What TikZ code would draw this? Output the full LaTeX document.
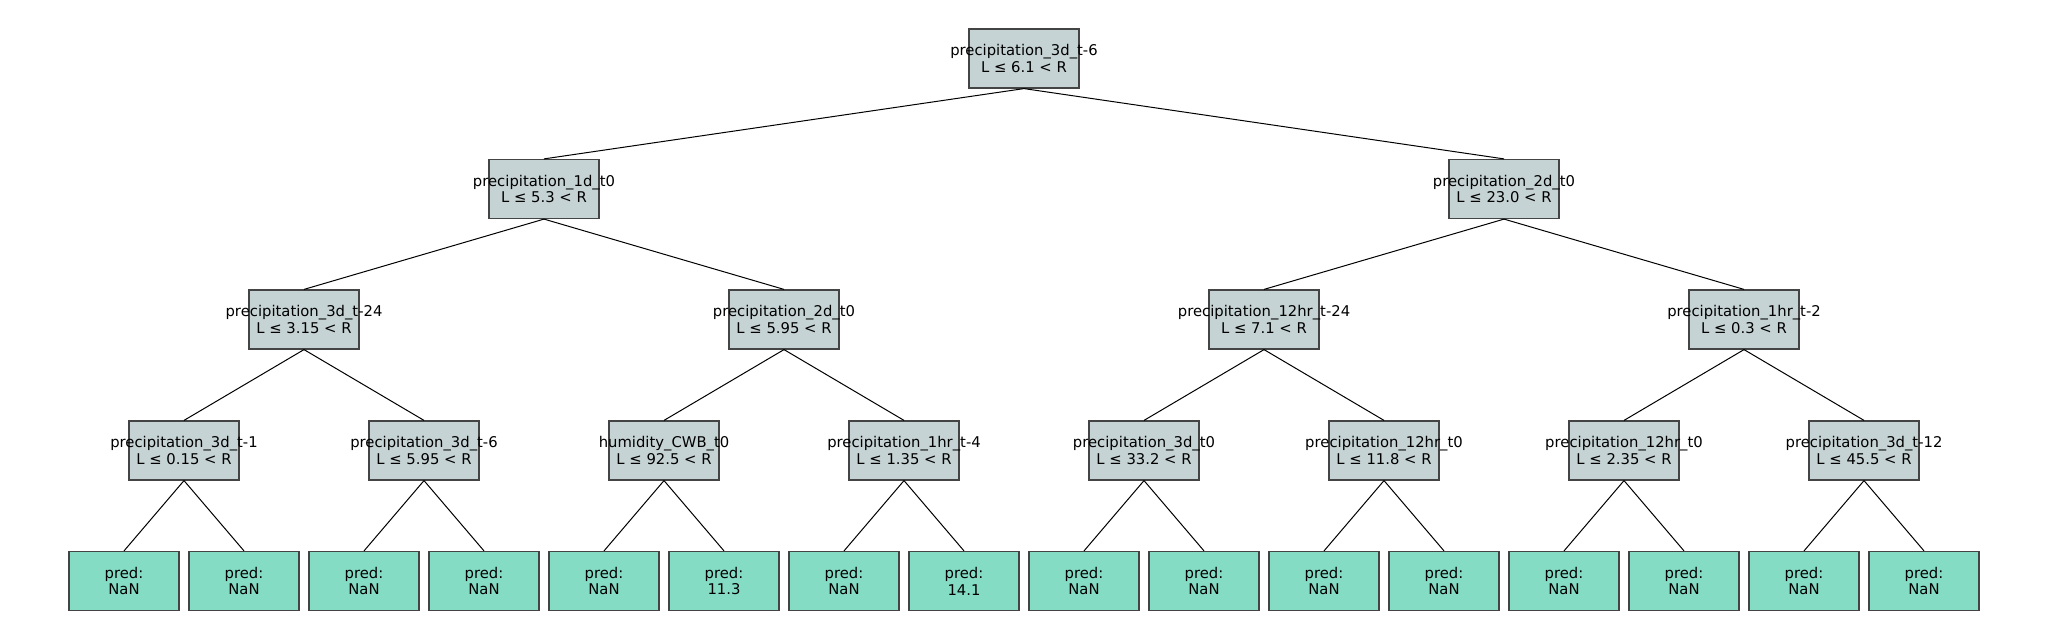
\documentclass[tikz,border=0pt]{standalone}
\usepackage{fontspec}
\newfontfamily\treefont{DejaVu Sans}
\definecolor{splitgray}{RGB}{198,211,212}
\definecolor{leafgreen}{RGB}{133,220,197}
\definecolor{boxline}{RGB}{68,68,68}
\tikzset{
	split/.style={draw=boxline, fill=splitgray, line width=0.6pt, minimum width=55pt, minimum height=29.5pt, inner sep=0pt, align=center, font=\treefont\fontsize{7.4}{8.4}\selectfont},
	leaf/.style={split, fill=leafgreen},
	branch/.style={line width=0.5pt, black}
}
\newcommand{\feat}[1]{\makebox[0pt]{#1}}

\begin{document}
\begin{tikzpicture}[x=0.5pt, y=-0.5pt]
	\useasboundingbox (0, 0) rectangle (2048, 640);
	\node[split] (T) at (1024, 58.5) {\feat{precipitation\_3d\_t-6}\\L ≤ 6.1 < R};
	\node[split] (L) at (544, 189) {\feat{precipitation\_1d\_t0}\\L ≤ 5.3 < R};
	\node[split] (R) at (1504, 189) {\feat{precipitation\_2d\_t0}\\L ≤ 23.0 < R};
	\node[split] (LL) at (304, 319.5) {\feat{precipitation\_3d\_t-24}\\L ≤ 3.15 < R};
	\node[split] (LR) at (784, 319.5) {\feat{precipitation\_2d\_t0}\\L ≤ 5.95 < R};
	\node[split] (RL) at (1264, 319.5) {\feat{precipitation\_12hr\_t-24}\\L ≤ 7.1 < R};
	\node[split] (RR) at (1744, 319.5) {\feat{precipitation\_1hr\_t-2}\\L ≤ 0.3 < R};
	\node[split] (LLL) at (184, 450.5) {\feat{precipitation\_3d\_t-1}\\L ≤ 0.15 < R};
	\node[split] (LLR) at (424, 450.5) {\feat{precipitation\_3d\_t-6}\\L ≤ 5.95 < R};
	\node[split] (LRL) at (664, 450.5) {\feat{humidity\_CWB\_t0}\\L ≤ 92.5 < R};
	\node[split] (LRR) at (904, 450.5) {\feat{precipitation\_1hr\_t-4}\\L ≤ 1.35 < R};
	\node[split] (RLL) at (1144, 450.5) {\feat{precipitation\_3d\_t0}\\L ≤ 33.2 < R};
	\node[split] (RLR) at (1384, 450.5) {\feat{precipitation\_12hr\_t0}\\L ≤ 11.8 < R};
	\node[split] (RRL) at (1624, 450.5) {\feat{precipitation\_12hr\_t0}\\L ≤ 2.35 < R};
	\node[split] (RRR) at (1864, 450.5) {\feat{precipitation\_3d\_t-12}\\L ≤ 45.5 < R};
	\node[leaf] (LLLL) at (124, 581) {pred:\\NaN};
	\node[leaf] (LLLR) at (244, 581) {pred:\\NaN};
	\node[leaf] (LLRL) at (364, 581) {pred:\\NaN};
	\node[leaf] (LLRR) at (484, 581) {pred:\\NaN};
	\node[leaf] (LRLL) at (604, 581) {pred:\\NaN};
	\node[leaf] (LRLR) at (724, 581) {pred:\\11.3};
	\node[leaf] (LRRL) at (844, 581) {pred:\\NaN};
	\node[leaf] (LRRR) at (964, 581) {pred:\\14.1};
	\node[leaf] (RLLL) at (1084, 581) {pred:\\NaN};
	\node[leaf] (RLLR) at (1204, 581) {pred:\\NaN};
	\node[leaf] (RLRL) at (1324, 581) {pred:\\NaN};
	\node[leaf] (RLRR) at (1444, 581) {pred:\\NaN};
	\node[leaf] (RRLL) at (1564, 581) {pred:\\NaN};
	\node[leaf] (RRLR) at (1684, 581) {pred:\\NaN};
	\node[leaf] (RRRL) at (1804, 581) {pred:\\NaN};
	\node[leaf] (RRRR) at (1924, 581) {pred:\\NaN};
	\draw [branch] (T.south) -- (L.north);
	\draw [branch] (T.south) -- (R.north);
	\draw [branch] (L.south) -- (LL.north);
	\draw [branch] (L.south) -- (LR.north);
	\draw [branch] (R.south) -- (RL.north);
	\draw [branch] (R.south) -- (RR.north);
	\draw [branch] (LL.south) -- (LLL.north);
	\draw [branch] (LL.south) -- (LLR.north);
	\draw [branch] (LR.south) -- (LRL.north);
	\draw [branch] (LR.south) -- (LRR.north);
	\draw [branch] (RL.south) -- (RLL.north);
	\draw [branch] (RL.south) -- (RLR.north);
	\draw [branch] (RR.south) -- (RRL.north);
	\draw [branch] (RR.south) -- (RRR.north);
	\draw [branch] (LLL.south) -- (LLLL.north);
	\draw [branch] (LLL.south) -- (LLLR.north);
	\draw [branch] (LLR.south) -- (LLRL.north);
	\draw [branch] (LLR.south) -- (LLRR.north);
	\draw [branch] (LRL.south) -- (LRLL.north);
	\draw [branch] (LRL.south) -- (LRLR.north);
	\draw [branch] (LRR.south) -- (LRRL.north);
	\draw [branch] (LRR.south) -- (LRRR.north);
	\draw [branch] (RLL.south) -- (RLLL.north);
	\draw [branch] (RLL.south) -- (RLLR.north);
	\draw [branch] (RLR.south) -- (RLRL.north);
	\draw [branch] (RLR.south) -- (RLRR.north);
	\draw [branch] (RRL.south) -- (RRLL.north);
	\draw [branch] (RRL.south) -- (RRLR.north);
	\draw [branch] (RRR.south) -- (RRRL.north);
	\draw [branch] (RRR.south) -- (RRRR.north);
\end{tikzpicture}
\end{document}
